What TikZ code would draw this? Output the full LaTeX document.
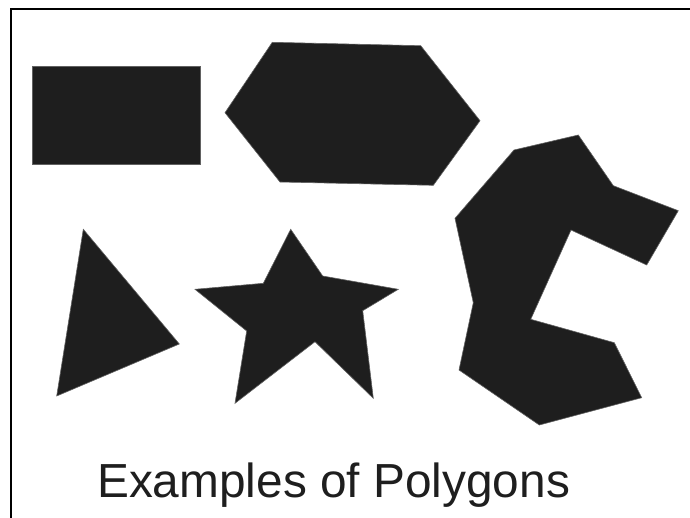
\documentclass[tikz,border=0pt]{standalone}
\usepackage{fontspec}
\setmainfont{Liberation Sans}
\definecolor{polyfill}{HTML}{1E1E1E}
\begin{document}
\begin{tikzpicture}[x=1pt,y=-1pt,
  poly/.style={fill=polyfill,draw=polyfill!70!white,line width=0.6pt,line join=miter},
  frameline/.style={draw=black,line width=2.2pt}]
\useasboundingbox (0,0) rectangle (690,518);
\fill[white] (0,0) rectangle (690,518);
% frame
\coordinate (fbl) at (11,518);
\coordinate (ftl) at (11,9);
\coordinate (ftr) at (690,9);
\draw[frameline] (fbl) -- (ftl) -- (ftr);
% rectangle
\draw[poly] (32,66) rectangle (200,164);
% hexagon
\draw[poly] (272.3,42.3) -- (420.7,45.7) -- (480,120.7) -- (433.3,185.3) -- (280,182) -- (225,112.7) -- cycle;
% irregular polygon
\draw[poly] (514,150) -- (578.3,135) -- (613.3,185.7) -- (678.3,210.7) -- (646.7,265) -- (571,230) -- (530.7,319.3) -- (614.3,342.7) -- (641.7,397.7) -- (539.3,425) -- (459,370) -- (473.3,302.7) -- (455,218.3) -- cycle;
% star
\draw[poly] (290.7,229.3) -- (322.7,276) -- (398.3,289.3) -- (362.7,310.7) -- (373.3,398.3) -- (315,341.7) -- (235,403.3) -- (246.7,331) -- (195,289.3) -- (263.3,283.3) -- cycle;
% triangle
\draw[poly] (83.3,229.3) -- (179.3,344) -- (56.7,396) -- cycle;
% caption
\node[anchor=base west,inner sep=0pt,font=\fontsize{47.8}{50}\selectfont,text=polyfill] (cap) at (97,497) {Examples of Polygons};
\end{tikzpicture}
\end{document}
